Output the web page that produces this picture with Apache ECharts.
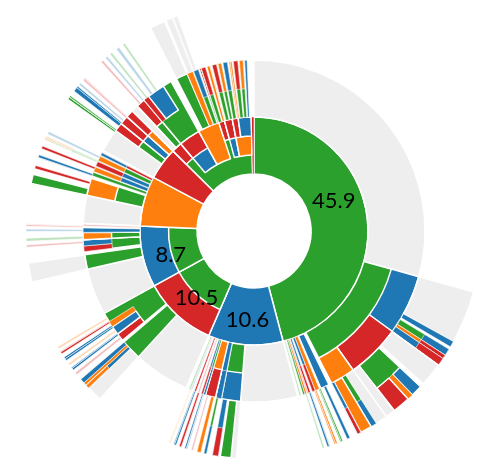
<!DOCTYPE html>
<html><head><meta charset="utf-8">
<script src="https://cdn.jsdelivr.net/npm/echarts@6/dist/echarts.min.js"></script>
<style>html,body{margin:0;padding:0;background:#fff}#c{width:480px;height:461px}</style>
</head><body><div id="c"></div>
<script>
// Segments per ring: [category, share of total in %], clockwise from 12 o'clock.
// G green, C blue, A red, T orange, '-' other (grey); lowercase = faint trace; '' = nothing on that ring.
const ringCore = [['G',45.9],['C',10.6],['A',10.5],['C',8.7],['T',7.1],['A',4.6],['G',12.2],['A',0.4]];
const ringCoreInner = [['',56.5],['G',19.2]];
const ringCoreMid = [['',88.89],['C',3.06],['T',3.06],['',0.83],['C',1.11],['T',2.66]];
const ringCoreOuter = [['',87.4],['A',4.54],['',3.06],['A',2.78],['C',1.82]];

const ring2 = [
 ['-',29.31],['G',13.19],['',0.28],['C',0.83],['',0.14],['T',0.42],['C',0.28],['',0.19],['C',0.22],['a',0.14],['T',0.19],['G',0.17],['',0.19],['g',0.17],['',0.18],
 ['-',5.35],['G',1.81],['C',0.56],['T',0.97],['G',0.22],['C',0.19],['',0.17],['a',0.17],['',0.17],['A',0.17],['',0.22],['c',0.14],['g',0.19],['',0.28],
 ['-',5.31],['G',1.94],['',0.19],['G',3.06],
 ['-',4.39],['G',1.39],['',0.28],['G',1.11],['G',0.69],['C',0.42],['',0.17],['a',0.17],['',0.09],
 ['-',2.63],['G',1.67],['',0.22],['G',0.33],['',0.08],['C',0.47],['',0.08],['C',0.47],['',0.08],['G',0.47],['',0.08],['A',0.28],['',0.22],
 ['-',2.2],['G',0.83],['C',0.83],['T',0.73],
 ['-',0.66],['G',3.89],['',0.56],['G',1.11],['T',0.56],['',0.08],['G',0.47],['',0.14],['G',0.56],['',0.14],['T',0.33],['',0.17],['G',0.42],['',0.14],['G',0.33],['',0.14],['G',0.42],['',0.14],['T',0.28],['',0.14],['G',0.42],['',0.14],['G',0.36],['',0.14],['C',0.22]
];
const ring2Outer = [
 ['',29.31],['C',5.69],['A',5.14],['T',2.36],['',1.67],['A',0.28],['',0.19],['A',0.22],['',6.39],
 ['C',2.36],['A',0.97],['C',0.22],['A',0.19],['',8.94],['A',0.78],['C',0.83],['T',0.56],['',6.94],
 ['A',0.56],['C',0.56],['T',0.69],['',3.47],['T',1.67],['',0.64],['T',0.47],['',0.08],['A',0.47],['',0.08],['T',0.47],['',0.08],['C',0.28],['',2.42],
 ['A',2.4],['',0.66],['A',1.39],['C',1.67],['',3.14],['C',0.47],['',0.14],['A',0.56],['',0.64],['A',0.42],['',0.14],['T',0.33],['',0.14],['C',0.42],['',0.56],['A',0.42],['',0.14],['T',0.36]
];
const ring3 = [
 ['',29.31],['-',3.75],['C',0.42],['',0.19],['G',0.5],['T',0.28],['C',0.56],['-',1.67],['',0.28],['G',2.5],['-',1.53],['G',0.42],['T',0.83],['C',0.28],['',0.56],['C',0.22],['',0.33],['G',0.19],['',0.22],['T',0.22],['',0.33],['C',0.19],['',0.22],['g',0.14],
 ['',6.11],['-',0.36],['G',0.75],['',0.14],['C',0.42],['',0.42],['G',0.19],['',0.22],['T',0.28],['',0.28],['a',0.14],['',0.28],['C',0.19],['',0.22],['A',0.19],['',0.22],['C',0.19],['',0.22],['t',0.14],
 ['',5.69],['-',1.11],['C',0.28],['T',0.22],['C',0.33],['',0.42],['a',0.19],['',0.22],['C',0.22],['',0.19],['t',0.17],['',0.25],['C',0.28],['',0.28],['A',0.19],['',0.22],['t',0.17],
 ['',4.83],['-',1.39],['',1.11],['a',0.17],['',0.25],['g',0.22],['',0.47],['c',0.17],['',0.19],['a',0.17],
 ['',2.81],['G',0.69],['',0.42],['A',0.22],['',0.56],['C',0.22],['',0.47],['A',0.19],['',0.5],['G',0.19],['',0.22],['c',0.19],
 ['',2.64],['G',0.28],['',0.42],['C',0.42],['',0.14],['c',0.17],['',0.25],['a',0.22],
 ['',1.58],['a',0.17],['',0.25],['c',0.19],['',0.22],['g',0.17],['',0.39],['c',0.22],['',0.33],['g',0.17],['',2.06],['-',1.11],['',0.14],['-',0.83]
];
const ring3Outer = [
 ['',33.67],['C',0.5],['A',0.83],['',1.94],['C',0.83],['T',0.42],['A',1.25],['',1.53],['C',0.42],['',0.83],['A',0.28],
 ['',10],['A',0.42],['',0.42],['C',0.19],['',9.39],['T',0.28],['',18.42],['T',0.19]
];
const shownLabels = ['45.9','10.6','10.5','8.7'];

// ---- styling & construction ----
const COLORS = {G:'#2ca02c', C:'#1f77b4', A:'#d62728', T:'#ff7f0e', '-':'#eeeeee'};
const FAINT = {g:'rgba(44,160,44,0.3)', c:'rgba(31,119,180,0.3)', a:'rgba(214,39,40,0.3)', t:'rgba(255,127,14,0.3)'};
const rings = [ringCore, ringCoreInner, ringCoreMid, ringCoreOuter, ring2, ring2Outer, ring3, ring3Outer];

function segs(ring) {
  let s = 0; const out = [];
  ring.forEach(([b, v]) => { out.push({b, s, e: s + v}); s += v; });
  if (s < 100) out.push({b: '', s, e: 100});
  return out;
}
function labelStyle(key) {
  const base = {show: true, rotate: 0, fontSize: 22, fontFamily: 'Lato', color: '#000', align: 'center'};
  if (key === '45.9') return Object.assign(base, {verticalAlign: 'bottom', lineHeight: 38, padding: [0, 10, 0, 0]});
  return Object.assign(base, {verticalAlign: 'top', lineHeight: 8});
}
function makeNode(b, s, e, depth) {
  const v = e - s;
  let itemStyle;
  if (!b) itemStyle = {color: 'rgba(0,0,0,0)', borderWidth: 0};
  else {
    const col = COLORS[b] || FAINT[b];
    itemStyle = {color: col, borderColor: '#fff', borderWidth: v < 0.6 ? 0.6 : 1.5};
  }
  const node = {name: '', value: v, itemStyle, label: {show: false}, children: []};
  const key = v.toFixed(1);
  if (depth === 1 && shownLabels.includes(key)) {
    node.name = key;
    node.label = labelStyle(key);
  }
  return {node, s, e};
}
let prev = segs(rings[0]).map(g => makeNode(g.b, g.s, g.e, 1));
const roots = prev.map(p => p.node);
for (let k = 1; k < rings.length; k++) {
  const cur = segs(rings[k]);
  const next = [];
  prev.forEach(p => {
    cur.forEach(c => {
      const s = Math.max(p.s, c.s), e = Math.min(p.e, c.e);
      if (e - s > 1e-6) {
        const n = makeNode(c.b, s, e, k + 1);
        p.node.children.push(n.node);
        next.push(n);
      }
    });
  });
  prev = next;
}
(function prune(list){ list.forEach(n => { if (!n.children.length) delete n.children; else prune(n.children); }); })(roots);

const chart = echarts.init(document.getElementById('c'), null, {renderer: 'canvas'});
chart.setOption({
  animation: false,
  backgroundColor: '#fff',
  series: [{
    type: 'sunburst',
    center: [254, 231],
    startAngle: 90,
    clockwise: true,
    sort: function (a, b) { return a.dataIndex - b.dataIndex; },
    nodeClick: false,
    emphasis: {disabled: true},
    data: roots,
    levels: [
      {},
      {radius: [57, 114]},
      {radius: [57, 85.5]},
      {radius: [76, 114]},
      {radius: [95, 114]},
      {radius: [114, 171]},
      {radius: [142.5, 171]},
      {radius: [171, 228]},
      {radius: [199.5, 228]}
    ]
  }]
});
</script></body></html>
